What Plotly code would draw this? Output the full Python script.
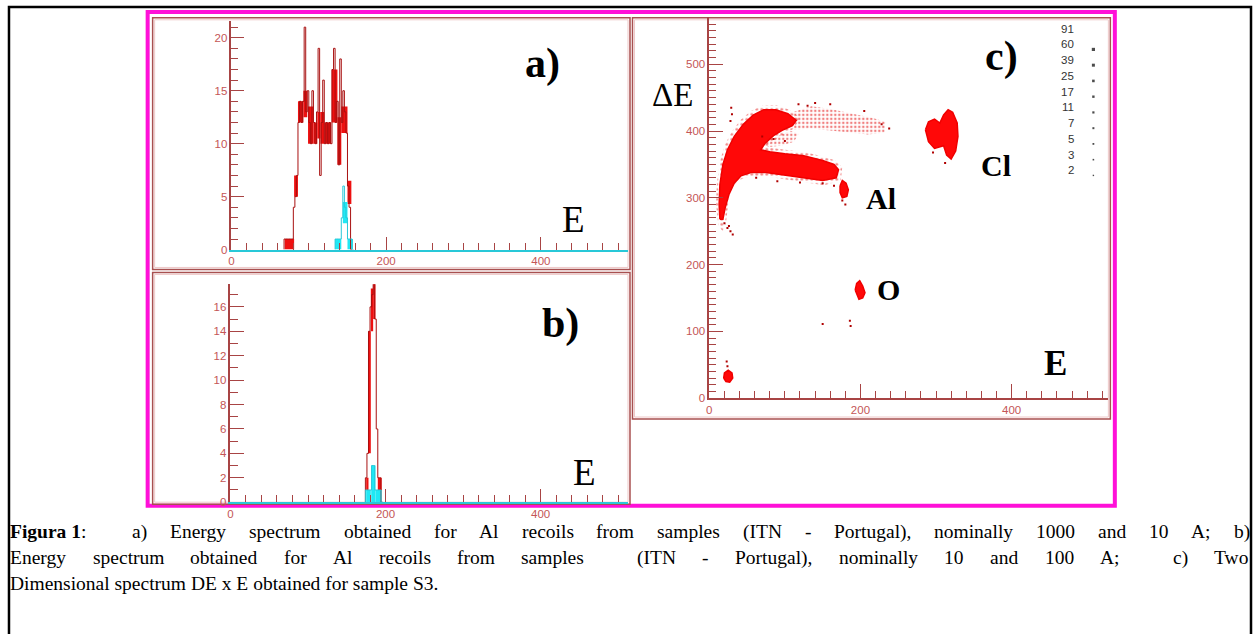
import plotly.graph_objects as go

W, H = 1254, 634

# ---------------- data ----------------
# a) Energy spectrum (Al recoils, nominally 1000 and 10 A) - 2-channel bins (left edges)
a_red_bins = [68, 70, 72, 74, 76, 78, 80, 82, 84, 86, 88, 90, 92, 94, 96, 98, 100, 102, 104, 106, 108, 110,
              112, 114, 116, 118, 120, 122, 124, 126, 128, 130, 132, 134, 136, 138, 140, 142, 144, 146, 148,
              150, 152, 154]
a_red_counts = [1, 1, 1, 1, 1, 1, 4, 5, 7, 12, 14, 12, 14, 21, 13, 15, 12, 10, 15, 12, 10, 13,
                19, 7, 12, 16, 10, 12, 10, 12, 10, 17, 19, 12, 14, 8, 18, 12, 15, 13, 11,
                6, 4, 0]
# dense (filled-looking) fluctuation bands of the red spectrum
a_red_band_from = [69, 81, 86, 93, 99, 106, 111, 115, 120, 129.5, 137, 142, 150]
a_red_band_to = [81, 86, 93, 98, 106, 111, 115, 120, 129, 137, 142, 150, 155]
a_red_band_low = [0, 5, 12, 12.5, 10, 10, 10.5, 10, 10, 12, 8, 11, 4.3]
a_red_band_high = [1, 7, 14, 15, 13.5, 12, 13, 13, 12, 17, 12.5, 13.5, 6.5]

a_cyan_bins = [134, 136, 138, 140, 142, 144, 146, 148, 150, 152, 154, 156]
a_cyan_counts = [1, 1, 1, 1, 3, 6, 4, 3, 1, 1, 1, 0]
a_cyan_band_from = [134, 144, 150]
a_cyan_band_to = [142, 150, 157]
a_cyan_band_low = [0, 2.5, 0]
a_cyan_band_high = [1, 4.5, 1]

# b) Energy spectrum (Al recoils, nominally 10 and 100 A)
b_red_bins = [174, 176, 178, 180, 182, 184, 186, 188, 190, 192, 194]
b_red_counts = [2, 4, 14, 16, 17, 18, 15, 6, 2, 2, 0]
b_red_band_from = [175, 177.5, 181, 184, 190]
b_red_band_to = [178, 181, 184, 187, 195]
b_red_band_low = [1, 4, 14, 15, 1]
b_red_band_high = [2, 14, 17.5, 18, 2]

b_cyan_bins = [174, 176, 178, 180, 182, 184, 186, 188, 190, 192, 194]
b_cyan_counts = [1, 1, 1, 1, 3, 3, 1, 1, 1, 1, 0]
b_cyan_band_from = [175, 181.5, 187]
b_cyan_band_to = [181, 187, 195]
b_cyan_band_low = [0, 0, 0]
b_cyan_band_high = [1, 3, 1]

# c) two-dimensional spectrum DeltaE x E : cluster outlines (E, dE)
al_E = [14, 13, 14, 18, 24, 33, 45, 58, 72, 88, 104, 115, 110, 98, 85, 74, 68, 80, 100, 125, 150, 165,
        171, 168, 150, 125, 100, 75, 55, 42, 33, 26, 21, 18]
al_dE = [268, 290, 320, 350, 372, 392, 410, 424, 432, 432, 426, 416, 408, 402, 393, 382, 372, 369, 366,
         363, 356, 350, 342, 330, 326, 330, 334, 338, 338, 333, 322, 305, 285, 268]
halo_E = [12, 9, 10, 14, 20, 29, 41, 55, 70, 88, 106, 120, 112, 100, 88, 78, 75, 100, 125, 150, 167, 176,
          174, 152, 125, 100, 75, 55, 40, 30, 26, 24, 22, 18]
halo_dE = [258, 290, 322, 354, 378, 398, 416, 430, 438, 439, 432, 420, 404, 396, 388, 378, 376, 372, 369,
           362, 356, 346, 326, 319, 324, 328, 332, 332, 327, 316, 300, 282, 262, 250]
tail_E = [110, 135, 160, 190, 215, 233, 232, 210, 185, 160, 135, 112]
tail_dE = [428, 437, 433, 426, 420, 414, 398, 395, 398, 402, 404, 402]
inner_E = [72, 90, 108, 118, 112, 95, 78]
inner_dE = [384, 392, 400, 396, 384, 378, 376]
al2_E = [173, 176, 181, 184, 182, 176, 173]
al2_dE = [318, 326, 322, 312, 302, 300, 308]
cl_E = [286, 290, 298, 305, 310, 316, 322, 328, 329, 326, 320, 314, 310, 305, 298, 290]
cl_dE = [402, 414, 418, 412, 424, 432, 428, 412, 392, 370, 358, 364, 378, 376, 374, 384]
o_E = [193, 195, 199, 203, 206, 203, 198]
o_dE = [162, 172, 176, 168, 158, 150, 148]
low_E = [19, 20, 25, 30, 31, 27, 22]
low_dE = [30, 38, 42, 38, 30, 24, 25]
sparse_E = [29, 30, 28, 20, 24, 28, 31, 26, 70, 85, 100, 62, 90, 120, 150, 165, 176, 180, 150, 187, 186,
            23, 24, 296, 312, 140, 130, 238, 228, 205, 118, 160]
sparse_dE = [435, 425, 415, 262, 255, 250, 245, 258, 392, 388, 385, 330, 325, 323, 322, 318, 296, 290,
             111, 108, 116, 55, 48, 368, 352, 442, 438, 404, 410, 430, 440, 440]

legend_counts = [91, 60, 39, 25, 17, 11, 7, 5, 3, 2]

cap_line1 = ["Figura 1:", "a)", "Energy", "spectrum", "obtained", "for", "Al", "recoils", "from", "samples",
             "(ITN", "-", "Portugal),", "nominally", "1000", "and", "10", "A;", "b)"]
cap_line2 = ["Energy", "spectrum", "obtained", "for", "Al", "recoils", "from", "samples", "(ITN", "-",
             "Portugal),", "nominally", "10", "and", "100", "A;", "c)", "Two"]
cap_line3 = "Dimensional spectrum DE x E obtained for sample S3."

# ---------------- helpers ----------------
def PX(x):
    return x / W


def PY(y):
    return 1 - y / H


AX = "#a84444"
TICKC = "#c45656"
RED_LINE = "#a81010"
RED_FILL = "#ee1010"
CY_LINE = "#28c8d8"
CY_FILL = "#20e8f4"

fig = go.Figure()


def step_trace(bins, counts, color, xa, ya, width=2):
    xs = [bins[0]] + list(bins) + [bins[-1] + width]
    ys = [0] + list(counts) + [counts[-1]]
    return go.Scatter(x=xs, y=ys, mode="lines", line=dict(shape="hv", color=color, width=1),
                      xaxis=xa, yaxis=ya, hoverinfo="skip")


def band_trace(x0s, x1s, lows, highs, color, xa, ya):
    return go.Bar(x=[(a + b) / 2 for a, b in zip(x0s, x1s)],
                  y=[h - l for l, h in zip(lows, highs)], base=lows,
                  width=[b - a for a, b in zip(x0s, x1s)],
                  marker=dict(color=color, line=dict(width=0)), xaxis=xa, yaxis=ya, hoverinfo="skip")


# panel a
fig.add_trace(band_trace(a_red_band_from, a_red_band_to, a_red_band_low, a_red_band_high, RED_FILL, "x", "y"))
fig.add_trace(step_trace(a_red_bins, a_red_counts, RED_LINE, "x", "y"))
fig.add_trace(band_trace(a_cyan_band_from, a_cyan_band_to, a_cyan_band_low, a_cyan_band_high, CY_FILL, "x", "y"))
fig.add_trace(step_trace(a_cyan_bins, a_cyan_counts, CY_LINE, "x", "y"))
# panel b
fig.add_trace(band_trace(b_red_band_from, b_red_band_to, b_red_band_low, b_red_band_high, RED_FILL, "x2", "y2"))
fig.add_trace(step_trace(b_red_bins, b_red_counts, RED_LINE, "x2", "y2"))
fig.add_trace(band_trace(b_cyan_band_from, b_cyan_band_to, b_cyan_band_low, b_cyan_band_high, CY_FILL, "x2", "y2"))
fig.add_trace(step_trace(b_cyan_bins, b_cyan_counts, CY_LINE, "x2", "y2"))

# panel c : speckled (sparse) regions first
for Es, dEs, sz, sol in [(halo_E, halo_dE, 5, 0.22), (tail_E, tail_dE, 4, 0.3), (inner_E, inner_dE, 4, 0.28)]:
    fig.add_trace(go.Scatter(x=Es + [Es[0]], y=dEs + [dEs[0]], mode="lines", fill="toself",
                             fillcolor="rgba(0,0,0,0)", line=dict(width=0),
                             fillpattern=dict(shape=".", fgcolor="#e00000", bgcolor="rgba(0,0,0,0)",
                                              size=sz, solidity=sol),
                             xaxis="x3", yaxis="y3", hoverinfo="skip"))
for Es, dEs in [(al_E, al_dE), (al2_E, al2_dE), (cl_E, cl_dE), (o_E, o_dE), (low_E, low_dE)]:
    fig.add_trace(go.Scatter(x=Es + [Es[0]], y=dEs + [dEs[0]], mode="lines", fill="toself",
                             fillcolor="#ff0808", line=dict(color="#f00000", width=1.5),
                             xaxis="x3", yaxis="y3", hoverinfo="skip"))
fig.add_trace(go.Scatter(x=sparse_E, y=sparse_dE, mode="markers",
                         marker=dict(symbol="square", size=2, color="#b00000", line=dict(width=0)),
                         xaxis="x3", yaxis="y3", hoverinfo="skip"))

# legend of c (pixel overlay axes)
leg_y = [29 + 15.9 * i for i in range(len(legend_counts))]
dot_sizes = [0, 3.2, 3, 2.6, 2.4, 2.2, 2, 1.8, 1.6, 1.4]
fig.add_trace(go.Scatter(x=[1093] * (len(legend_counts) - 1), y=[y + 5 for y in leg_y[1:]], mode="markers",
                         marker=dict(symbol="square", size=dot_sizes[1:], color="#000000", line=dict(width=0)),
                         xaxis="x4", yaxis="y4", hoverinfo="skip"))


def axis(domain, rng, dtick, mdtick, linecolor, anchor, major_len=12, minor_len=6):
    return dict(domain=domain, range=rng, anchor=anchor, showline=True, linecolor=linecolor, linewidth=1.5,
                ticks="inside", ticklen=major_len, tickwidth=1, tickcolor=AX, tick0=0, dtick=dtick,
                minor=dict(tick0=0, dtick=mdtick, ticks="inside", ticklen=minor_len, tickcolor=AX, tickwidth=1),
                showgrid=False, zeroline=False, fixedrange=True,
                tickfont=dict(family="Liberation Sans", size=11.5, color=TICKC))


fig.update_layout(
    width=W, height=H, margin=dict(l=0, r=0, t=0, b=0),
    paper_bgcolor="white", plot_bgcolor="rgba(0,0,0,0)", showlegend=False, barmode="overlay",
    xaxis=axis([PX(229), PX(626)], [0, 512], 200, 20, CY_LINE, "y", 13, 7),
    yaxis=axis([PY(252), PY(21)], [0, 21.6], 5, 1, AX, "x", 13, 7),
    xaxis2=axis([PX(228), PX(626)], [0, 512], 200, 20, CY_LINE, "y2", 13, 7),
    yaxis2=axis([PY(507), PY(287)], [0, 17.85], 2, 1, AX, "x2", 14, 8),
    xaxis3=axis([PX(708), PX(1108)], [0, 528], 200, 20, AX, "y3", 14, 7),
    yaxis3=axis([PY(402), PY(17)], [0, 571], 100, 10, AX, "x3", 14, 7),
    xaxis4=dict(domain=[0, 1], range=[0, W], visible=False, anchor="y4", fixedrange=True),
    yaxis4=dict(domain=[0, 1], range=[H, 0], visible=False, anchor="x4", fixedrange=True),
)

# frames
shapes = []


def rect(x0, y0, x1, y1, color, width):
    shapes.append(dict(type="rect", xref="paper", yref="paper", x0=PX(x0), x1=PX(x1), y0=PY(y0), y1=PY(y1),
                       line=dict(color=color, width=width), fillcolor="rgba(0,0,0,0)", layer="below"))


rect(6, 7, 1251, 660, "black", 2.5)
rect(145, 12, 1114.5, 510.5, "#ff10d8", 4)
for (x0, y0, x1, y1) in [(150, 18, 628.5, 272), (150, 275, 628.5, 509), (631, 18, 1110, 423)]:
    rect(x0, y0, x1, y1, "#a85050", 1.5)
    rect(x0 + 2, y0 + 2, x1 - 2, y1 - 2, "#efc8c8", 1)
fig.update_layout(shapes=shapes)

ann = []


def label(x, y, text, size, bold=False, family="Liberation Serif", color="black", xanchor="center"):
    ann.append(dict(x=PX(x), y=PY(y), xref="paper", yref="paper", text=("<b>%s</b>" % text) if bold else text,
                    showarrow=False, font=dict(family=family, size=size, color=color),
                    xanchor=xanchor, yanchor="middle"))


label(541, 64, "a)", 42, bold=True)
label(572, 222, "E", 37)
label(559, 327, "b)", 42, bold=True)
label(583, 477, "E", 37)
label(1001, 57, "c)", 42, bold=True)
label(671, 96, "ΔE", 33)
label(995, 167, "Cl", 30, bold=True)
label(880, 200, "Al", 30, bold=True)
label(888, 292, "O", 30, bold=True)
label(1055, 367, "E", 35, bold=True)
for cnt, y in zip(legend_counts, leg_y):
    label(1076, y, str(cnt), 11.5, family="Liberation Sans", color="#333333", xanchor="right")

# caption (justified, Times metrics)
TR = {'a': 444, 'b': 500, 'c': 444, 'd': 500, 'e': 444, 'f': 333, 'g': 500, 'h': 500, 'i': 278, 'j': 278,
      'k': 500, 'l': 278, 'm': 778, 'n': 500, 'o': 500, 'p': 500, 'q': 500, 'r': 333, 's': 389, 't': 278,
      'u': 500, 'v': 500, 'w': 722, 'x': 500, 'y': 500, 'z': 444, 'A': 722, 'B': 667, 'C': 667, 'D': 722,
      'E': 611, 'F': 556, 'G': 722, 'H': 722, 'I': 333, 'J': 389, 'K': 722, 'L': 611, 'M': 889, 'N': 722,
      'O': 722, 'P': 556, 'Q': 722, 'R': 667, 'S': 556, 'T': 611, 'U': 722, 'V': 722, 'W': 944, 'X': 722,
      'Y': 722, 'Z': 611, '(': 333, ')': 333, ',': 250, '.': 250, ';': 278, ':': 278, '-': 333, ' ': 250}
TB = {'F': 611, 'i': 278, 'g': 500, 'u': 556, 'r': 444, 'a': 500, ' ': 250, '1': 500}
CAP = 19.5


def wid(s, bold=False):
    t = TB if bold else TR
    return sum(t.get(ch, 500) for ch in s) / 1000 * CAP


def justify(words, weights, y, xl, xr):
    widths = []
    for w in words:
        if w.startswith("Figura"):
            widths.append(wid("Figura 1", True) + wid(":"))
        else:
            widths.append(wid(w))
    space = wid(" ")
    extra = (xr - xl - sum(widths) - space * sum(weights)) / sum(weights)
    x = xl
    for i, w in enumerate(words):
        txt = "<b>Figura 1</b>:" if w.startswith("Figura") else w
        ann.append(dict(x=PX(x), y=PY(y), xref="paper", yref="paper", text=txt, showarrow=False,
                        font=dict(family="Liberation Serif", size=CAP, color="black"),
                        xanchor="left", yanchor="middle", borderpad=0))
        x += widths[i]
        if i < len(weights):
            x += weights[i] * (space + extra)


w1 = [2] + [1] * (len(cap_line1) - 2)
w2 = [1] * (len(cap_line2) - 1)
w2[7] = 2
w2[15] = 2
justify(cap_line1, w1, 537, 6, 1249)
justify(cap_line2, w2, 563, 6, 1249)
ann.append(dict(x=PX(6), y=PY(589), xref="paper", yref="paper", text=cap_line3, showarrow=False,
                font=dict(family="Liberation Serif", size=CAP, color="black"),
                xanchor="left", yanchor="middle", borderpad=0))
fig.update_layout(annotations=ann)

fig.write_html("out.html", config={"displayModeBar": False},
               post_script="document.body.style.margin='0px';document.body.style.overflow='hidden';")
